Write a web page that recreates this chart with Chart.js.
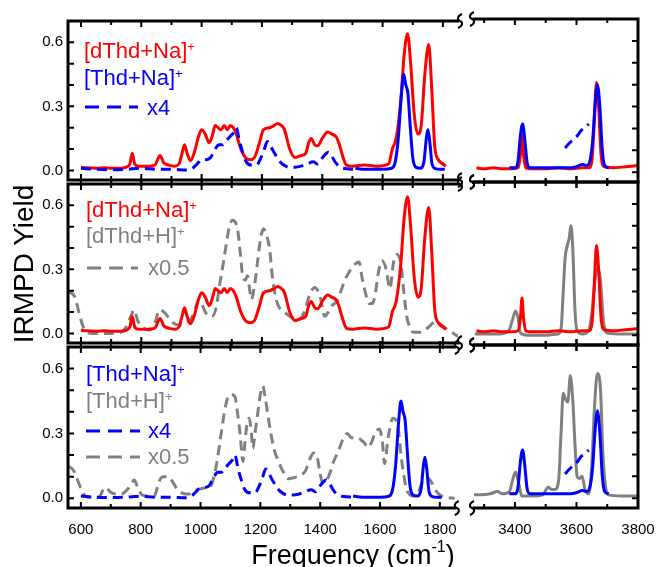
<!DOCTYPE html>
<html>
<head>
<meta charset="utf-8">
<script src="https://cdn.jsdelivr.net/npm/chart.js@4.4.1/dist/chart.umd.min.js"></script>
<style>
  html, body { margin: 0; padding: 0; background: #fff; }
  #wrap { position: relative; width: 656px; height: 567px; overflow: hidden; }
  canvas { position: absolute; }
  svg { position: absolute; left: 0; top: 0; }
</style>
</head>
<body>
<div id="wrap">
  <canvas id="l0"></canvas><canvas id="r0"></canvas>
  <canvas id="l1"></canvas><canvas id="r1"></canvas>
  <canvas id="l2"></canvas><canvas id="r2"></canvas>
  <svg width="656" height="567" font-family="Liberation Sans, Arial, sans-serif">
    <text x="33" y="264" font-size="28" text-anchor="middle" transform="rotate(-90 33 264)">IRMPD Yield</text>
    <text x="353" y="564" font-size="27" text-anchor="middle">Frequency (cm<tspan font-size="16" dy="-12">-1</tspan><tspan dy="12">)</tspan></text>

    <text x="84" y="58" font-size="22" fill="#ff0000">[dThd+Na]<tspan font-size="13" dy="-7">+</tspan></text>
    <text x="84" y="85" font-size="22" fill="#0000ff">[Thd+Na]<tspan font-size="13" dy="-7">+</tspan></text>
    <line x1="85" y1="107" x2="138" y2="107" stroke="#0000ff" stroke-width="3" stroke-dasharray="14,8"/>
    <text x="147" y="115" font-size="22" fill="#0000ff">x4</text>

    <text x="86" y="217" font-size="22" fill="#ff0000">[dThd+Na]<tspan font-size="13" dy="-7">+</tspan></text>
    <text x="86" y="243" font-size="22" fill="#808080">[dThd+H]<tspan font-size="13" dy="-7">+</tspan></text>
    <line x1="87" y1="268" x2="138" y2="268" stroke="#808080" stroke-width="3" stroke-dasharray="14,8"/>
    <text x="148" y="275" font-size="22" fill="#808080">x0.5</text>

    <text x="86" y="381" font-size="22" fill="#0000ff">[Thd+Na]<tspan font-size="13" dy="-7">+</tspan></text>
    <text x="86" y="408" font-size="22" fill="#808080">[Thd+H]<tspan font-size="13" dy="-7">+</tspan></text>
    <line x1="86" y1="431" x2="140" y2="431" stroke="#0000ff" stroke-width="3" stroke-dasharray="14,8"/>
    <text x="148" y="438" font-size="22" fill="#0000ff">x4</text>
    <line x1="86" y1="457" x2="140" y2="457" stroke="#808080" stroke-width="3" stroke-dasharray="14,8"/>
    <text x="148" y="464" font-size="22" fill="#808080">x0.5</text>
  </svg>
</div>
<script>
// axis ticks
const xTicksLow = [600, 700, 800, 900, 1000, 1100, 1200, 1300, 1400, 1500, 1600, 1700, 1800];
const xLabelsLow = [600, 800, 1000, 1200, 1400, 1600, 1800];
const xTicksHigh = [3300, 3400, 3500, 3600, 3700, 3800];
const xLabelsHigh = [3400, 3600, 3800];
const yTicks = [0, 0.1, 0.2, 0.3, 0.4, 0.5, 0.6];
const yLabels = [0, 0.3, 0.6];

// [dThd+Na]+  (frequency, yield)
const dThdNaLow = [[600,0.015],[620,0.012],[650,0.01],[680,0.012],[700,0.01],[730,0.01],[750,0.015],[762,0.03],[770,0.08],[778,0.03],[790,0.02],[820,0.02],[845,0.025],[862,0.07],[875,0.035],[890,0.025],[910,0.02],[925,0.03],[935,0.08],[943,0.12],[952,0.08],[963,0.045],[975,0.08],[990,0.16],[1000,0.19],[1012,0.17],[1025,0.13],[1035,0.16],[1045,0.21],[1055,0.2],[1065,0.19],[1075,0.21],[1085,0.19],[1095,0.21],[1105,0.2],[1115,0.17],[1130,0.1],[1145,0.06],[1160,0.05],[1175,0.06],[1190,0.12],[1205,0.19],[1225,0.2],[1240,0.21],[1252,0.22],[1265,0.21],[1275,0.19],[1292,0.1],[1310,0.06],[1330,0.07],[1345,0.08],[1355,0.13],[1363,0.15],[1375,0.12],[1385,0.115],[1400,0.15],[1418,0.18],[1432,0.17],[1447,0.155],[1457,0.12],[1465,0.08],[1480,0.025],[1500,0.02],[1540,0.025],[1580,0.02],[1620,0.03],[1632,0.1],[1645,0.15],[1660,0.32],[1672,0.55],[1683,0.64],[1693,0.5],[1705,0.26],[1717,0.17],[1728,0.21],[1740,0.45],[1753,0.59],[1763,0.38],[1773,0.11],[1785,0.05],[1800,0.03],[1810,0.02]];
const dThdNaHigh = [[3275,0.02],[3300,0.015],[3330,0.02],[3360,0.015],[3390,0.015],[3410,0.02],[3418,0.08],[3423,0.17],[3428,0.08],[3435,0.02],[3460,0.015],[3500,0.015],[3540,0.02],[3580,0.015],[3620,0.02],[3640,0.02],[3650,0.05],[3657,0.2],[3665,0.41],[3672,0.3],[3680,0.08],[3690,0.025],[3720,0.02],[3760,0.025],[3800,0.03]];

// [Thd+Na]+
const thdNaLow = [[1510,0.01],[1540,0.005],[1600,0.005],[1630,0.01],[1642,0.04],[1652,0.15],[1662,0.35],[1670,0.45],[1677,0.4],[1684,0.36],[1692,0.2],[1700,0.06],[1710,0.015],[1725,0.01],[1737,0.04],[1745,0.15],[1750,0.19],[1756,0.14],[1764,0.03],[1775,0.008],[1790,0.005],[1806,0.005]];
const thdNaLowX4 = [[600,0.01],[650,0.005],[700,0.003],[750,0.005],[800,0.01],[850,0.005],[900,0.005],[950,0.002],[970,0.01],[985,0.03],[1000,0.05],[1015,0.05],[1030,0.06],[1045,0.1],[1058,0.12],[1070,0.12],[1082,0.14],[1095,0.16],[1108,0.18],[1115,0.2],[1125,0.14],[1135,0.09],[1148,0.04],[1165,0.025],[1182,0.025],[1197,0.06],[1208,0.1],[1218,0.135],[1230,0.11],[1242,0.08],[1255,0.05],[1268,0.03],[1290,0.015],[1310,0.015],[1330,0.02],[1350,0.03],[1370,0.04],[1385,0.03],[1398,0.055],[1410,0.075],[1420,0.085],[1430,0.07],[1445,0.035],[1460,0.015],[1480,0.008],[1510,0.005]];
const thdNaHigh = [[3382,0.02],[3400,0.02],[3410,0.05],[3418,0.17],[3425,0.22],[3432,0.15],[3440,0.04],[3450,0.02],[3500,0.02],[3550,0.02],[3580,0.02],[3600,0.025],[3620,0.035],[3635,0.03],[3645,0.06],[3653,0.15],[3660,0.3],[3668,0.4],[3676,0.3],[3684,0.1],[3692,0.03],[3705,0.02]];
const thdNaHighX4 = [[3563,0.11],[3575,0.13],[3590,0.15],[3605,0.17],[3615,0.19],[3625,0.2],[3640,0.22]];

// [dThd+H]+  (low range shown x0.5)
const dThdHLow = [[557,0.2],[567,0.19],[580,0.17],[593,0.1],[605,0.04],[617,0.01],[640,0],[670,0],[700,0],[730,0.005],[750,0.03],[765,0.08],[776,0.11],[788,0.06],[803,0.03],[826,0.015],[845,0.05],[860,0.11],[875,0.1],[893,0.07],[910,0.045],[926,0.04],[945,0.05],[966,0.07],[980,0.12],[990,0.155],[1000,0.14],[1012,0.1],[1025,0.08],[1035,0.08],[1048,0.12],[1060,0.23],[1072,0.33],[1082,0.42],[1092,0.5],[1102,0.53],[1112,0.52],[1120,0.48],[1128,0.38],[1135,0.28],[1145,0.25],[1152,0.27],[1158,0.22],[1165,0.16],[1175,0.22],[1185,0.33],[1195,0.44],[1205,0.49],[1215,0.46],[1225,0.4],[1235,0.26],[1247,0.16],[1258,0.12],[1275,0.1],[1292,0.08],[1310,0.07],[1325,0.065],[1340,0.1],[1358,0.18],[1375,0.215],[1385,0.2],[1395,0.16],[1408,0.08],[1420,0.1],[1432,0.13],[1448,0.15],[1462,0.2],[1475,0.25],[1490,0.29],[1505,0.32],[1522,0.335],[1532,0.26],[1545,0.18],[1556,0.14],[1566,0.14],[1575,0.18],[1588,0.3],[1598,0.34],[1612,0.3],[1624,0.21],[1637,0.34],[1648,0.37],[1660,0.33],[1670,0.2],[1680,0.08],[1690,0.03],[1703,0.005],[1727,0.005],[1753,0.03],[1775,0.055],[1790,0.045],[1813,0.02],[1830,0.005],[1850,-0.015]];
const dThdHHigh = [[3270,0.005],[3300,0.005],[3350,0.005],[3380,0.02],[3392,0.07],[3402,0.11],[3410,0.08],[3418,0.01],[3440,0],[3500,0],[3540,0.005],[3550,0.03],[3557,0.2],[3563,0.35],[3570,0.41],[3576,0.44],[3582,0.5],[3588,0.4],[3595,0.12],[3602,0.02],[3620,0.005],[3640,0.02],[3650,0.1],[3660,0.25],[3670,0.31],[3678,0.25],[3688,0.06],[3700,0.01],[3750,0.005],[3800,0.005]];

// [Thd+H]+  (low range shown x0.5)
const thdHLow = [[557,0.15],[575,0.13],[590,0.08],[605,0.03],[615,0.01],[635,0.005],[660,0.005],[675,0.04],[685,0.05],[697,0.03],[715,0.02],[735,0.02],[755,0.04],[768,0.065],[778,0.085],[790,0.05],[805,0.015],[825,0.01],[845,0.01],[858,0.06],[868,0.095],[880,0.1],[893,0.1],[905,0.08],[918,0.05],[932,0.03],[950,0.02],[970,0.02],[990,0.04],[1005,0.045],[1018,0.05],[1035,0.06],[1045,0.1],[1055,0.17],[1068,0.29],[1080,0.4],[1092,0.47],[1102,0.48],[1115,0.47],[1125,0.38],[1132,0.3],[1142,0.17],[1148,0.25],[1155,0.34],[1163,0.37],[1170,0.3],[1175,0.23],[1182,0.3],[1190,0.38],[1200,0.48],[1208,0.52],[1218,0.45],[1228,0.36],[1235,0.3],[1247,0.22],[1258,0.18],[1270,0.14],[1280,0.115],[1295,0.09],[1310,0.095],[1325,0.1],[1340,0.11],[1352,0.13],[1365,0.18],[1378,0.21],[1388,0.2],[1398,0.13],[1408,0.07],[1418,0.08],[1428,0.1],[1445,0.17],[1461,0.22],[1475,0.27],[1490,0.3],[1505,0.28],[1522,0.28],[1545,0.26],[1561,0.235],[1572,0.26],[1583,0.3],[1598,0.32],[1608,0.26],[1615,0.16],[1627,0.28],[1643,0.37],[1660,0.33],[1670,0.2],[1687,0.05],[1697,0.02],[1710,0.01],[1728,0.03],[1743,0.08],[1757,0.095],[1767,0.085],[1787,0.035],[1800,0.015],[1820,0.005],[1850,0]];
const thdHHigh = [[3262,0.015],[3290,0.015],[3320,0.02],[3343,0.03],[3360,0.02],[3382,0.03],[3392,0.08],[3402,0.12],[3412,0.07],[3422,0.01],[3460,0.01],[3490,0.015],[3508,0.05],[3520,0.04],[3530,0.04],[3542,0.08],[3550,0.3],[3557,0.48],[3565,0.45],[3572,0.44],[3580,0.56],[3588,0.45],[3595,0.25],[3602,0.1],[3610,0.09],[3618,0.1],[3628,0.04],[3640,0.02],[3650,0.15],[3658,0.4],[3668,0.57],[3678,0.5],[3686,0.2],[3695,0.05],[3705,0.015],[3750,0.01],[3800,0.01]];

const RED = "#ff0000", BLUE = "#0000ff", GRAY = "#808080";
const FONT = "'Liberation Sans', Arial, sans-serif";
const PANEL_TOP = [19, 182, 345];
const PANEL_H = 163;
const M = 12;
const LABEL_H = 45;
const RIGHT_X = 462, RIGHT_W = 224;   // right canvases run past the page edge so "3800" fits

const pts = (a) => a.map(([x, y]) => ({ x, y }));
const line = (a, color, dashed) => ({
  data: pts(a),
  borderColor: color,
  borderWidth: 3,
  borderDash: dashed ? [10, 6] : [],
  pointRadius: 0,
  cubicInterpolationMode: "monotone",
});

// frame, inner ticks and axis-break marks
const framePlugin = {
  id: "frame",
  afterDraw(chart, args, opt) {
    const { ctx, chartArea: a, scales: { x, y } } = chart;
    const low = opt.low, row = opt.row;
    const ex = low ? a.left : a.right;
    ctx.save();
    ctx.strokeStyle = "#000";
    ctx.lineCap = "square";
    ctx.lineWidth = 3;
    ctx.beginPath();
    ctx.moveTo(a.left, a.top); ctx.lineTo(a.right, a.top);
    ctx.moveTo(a.left, a.bottom); ctx.lineTo(a.right, a.bottom);
    ctx.moveTo(ex, a.top); ctx.lineTo(ex, a.bottom);
    ctx.stroke();

    ctx.lineCap = "butt";
    ctx.lineWidth = 2;
    ctx.beginPath();
    for (const v of (low ? xTicksLow : xTicksHigh)) {
      const px = x.getPixelForValue(v);
      const len = v % 200 === 0 ? 6 : 4;
      ctx.moveTo(px, a.top - (row > 0 ? len : 0)); ctx.lineTo(px, a.top + len);
      ctx.moveTo(px, a.bottom + (row < 2 ? len : 0)); ctx.lineTo(px, a.bottom - len);
    }
    for (const v of yTicks) {
      const py = y.getPixelForValue(v);
      ctx.moveTo(ex, py); ctx.lineTo(low ? ex + 6 : ex - 6, py);
    }
    ctx.stroke();

    const bx = low ? a.right + 2 : a.left - 2;
    ctx.lineWidth = 2;
    ctx.beginPath();
    for (const by of [a.top, a.bottom]) {
      ctx.moveTo(bx + 2, by - 7);
      ctx.bezierCurveTo(bx - 3, by - 5, bx - 3, by - 1, bx, by);
      ctx.bezierCurveTo(bx + 3, by + 1, bx + 3, by + 5, bx - 2, by + 7);
    }
    ctx.stroke();
    ctx.restore();
  },
};

function makePanel(id, low, row, datasets) {
  const cv = document.getElementById(id);
  const last = row === 2;
  cv.width = low ? 470 : RIGHT_W;
  cv.height = PANEL_H + M + (last ? LABEL_H : M);
  cv.style.left = (low ? 0 : RIGHT_X) + "px";
  cv.style.top = PANEL_TOP[row] - M + "px";
  return new Chart(cv, {
    type: "line",
    data: { datasets },
    options: {
      responsive: false,
      animation: false,
      events: [],
      layout: { padding: { left: low ? 0 : 12, right: low ? 12 : RIGHT_X + RIGHT_W - 638, top: M, bottom: last ? 0 : M } },
      plugins: { legend: { display: false }, tooltip: { enabled: false }, frame: { low, row } },
      scales: {
        x: {
          type: "linear",
          min: low ? 557 : 3267,
          max: low ? 1850 : 3800,
          display: last,
          afterFit: (s) => { if (last) s.height = LABEL_H; },
          afterBuildTicks: (s) => { s.ticks = (low ? xLabelsLow : xLabelsHigh).map((v) => ({ value: v })); },
          grid: { display: false, drawTicks: false },
          border: { display: false },
          ticks: { padding: 13, color: "#000", font: { size: 15, family: FONT }, maxRotation: 0, autoSkip: false, callback: (v) => String(v) },
        },
        y: {
          type: "linear",
          min: -0.045,
          max: 0.7,
          display: low,
          afterFit: (s) => { if (low) s.width = 68; },
          afterBuildTicks: (s) => { s.ticks = yLabels.map((v) => ({ value: v })); },
          grid: { display: false, drawTicks: false },
          border: { display: false },
          ticks: { padding: 5, color: "#000", font: { size: 15, family: FONT }, callback: (v) => v.toFixed(1) },
        },
      },
    },
    plugins: [framePlugin],
  });
}

// first dataset is drawn on top
makePanel("l0", true, 0, [line(thdNaLow, BLUE), line(thdNaLowX4, BLUE, true), line(dThdNaLow, RED)]);
makePanel("r0", false, 0, [line(thdNaHigh, BLUE), line(thdNaHighX4, BLUE, true), line(dThdNaHigh, RED)]);
makePanel("l1", true, 1, [line(dThdNaLow, RED), line(dThdHLow, GRAY, true)]);
makePanel("r1", false, 1, [line(dThdNaHigh, RED), line(dThdHHigh, GRAY)]);
makePanel("l2", true, 2, [line(thdNaLow, BLUE), line(thdNaLowX4, BLUE, true), line(thdHLow, GRAY, true)]);
makePanel("r2", false, 2, [line(thdNaHigh, BLUE), line(thdNaHighX4, BLUE, true), line(thdHHigh, GRAY)]);
</script>
</body>
</html>
